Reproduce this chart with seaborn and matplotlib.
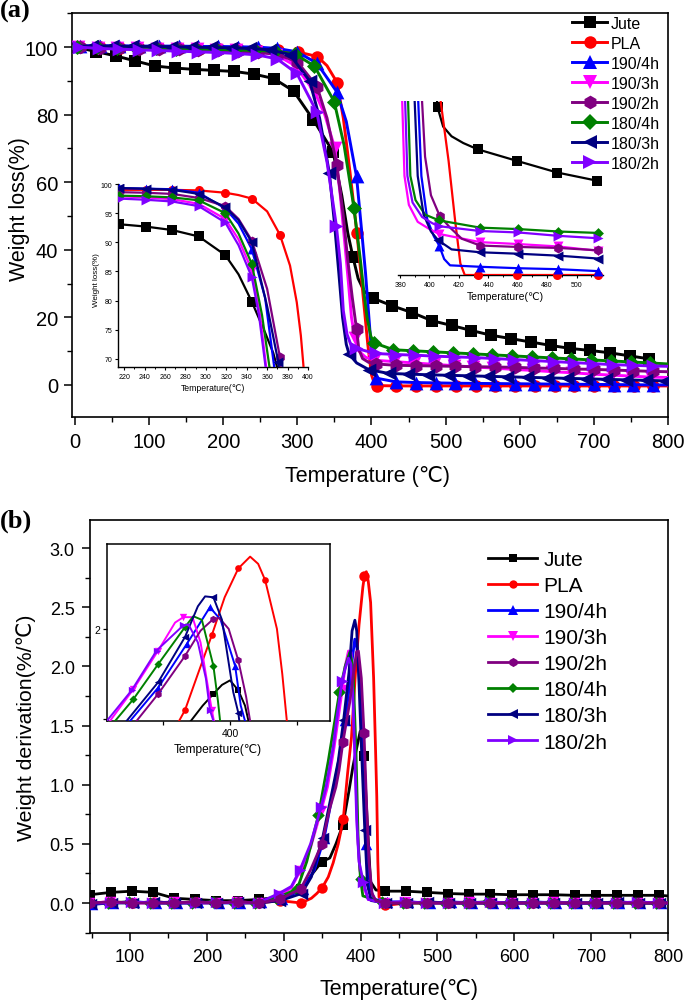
import numpy as np
import matplotlib
matplotlib.use("Agg")
import matplotlib.pyplot as plt
from matplotlib.lines import Line2D
from matplotlib.ticker import MultipleLocator, FixedLocator
import seaborn as sns

plt.rcParams['font.family'] = ['Liberation Sans', 'DejaVu Sans']
plt.rcParams['axes.unicode_minus'] = False

# ---------------- series ----------------
names = ['Jute', 'PLA', '190/4h', '190/3h', '190/2h', '180/4h', '180/3h', '180/2h']
colors = ['#000000', '#FF0000', '#0000FF', '#FF00FF', '#800080', '#008000', '#000080', '#8000FF']
markers = ['s', 'o', '^', 'v', 'h', 'D', '<', '>']
msize_scale = [1.0, 1.0, 1.1, 1.1, 1.1, 0.85, 1.1, 1.1]

# ---------------- panel (a): TGA, markers every 80/3 degC -----------------
a_step = 80 / 3
a_phase = [1.5, 7.0, 6.5, 4.0, 6.5, 3.0, 23.2, 6.0]
a_jute = [100, 98.7, 97.4, 95.9, 94.4, 93.8, 93.4, 93.1, 92.8, 92.0, 90.7, 87.0, 78.5, 69.0, 38.0,
          25.7, 23.4, 21.4, 19.0, 17.6, 16.1, 14.7, 13.7, 12.7, 11.7, 10.8, 10.2, 9.5, 8.6, 7.7]
a_jute_x = [(360, 56), (368, 45), (382, 31.5), (390, 27.8)]
a_pla = [100.0, 99.9, 99.8, 99.8, 99.7, 99.6, 99.5, 99.4, 99.3, 99.2, 99.0, 98.6, 97.2, 89.5, 45.0,
         -0.2, -0.3, -0.3, -0.3, -0.3, -0.3, -0.3, -0.3, -0.3, -0.3, -0.3, -0.3, -0.3, -0.3, -0.3]
a_pla_x = [(340, 94.5), (362, 79), (371, 63), (388, 28), (395, 12), (400, 3), (404, 0.3), (800, -0.3)]
a_b4 = [100.4, 100.4, 100.4, 100.3, 100.3, 100.3, 100.2, 100.2, 100.1, 100.0, 99.6, 98.6, 95.2, 86.8, 61.7,
        2.0, 0.9, 0.7, 0.6, 0.5, 0.45, 0.4, 0.35, 0.3, 0.25, 0.2, 0.15, 0.1, 0.05, 0.0]
a_b4_x = [(366, 78), (387, 45), (392, 33), (396.5, 20), (400, 10), (403, 4.5), (800, 0.0)]
a_b3 = [100.0, 99.8, 99.7, 99.6, 99.5, 99.4, 99.3, 99.2, 99.0, 98.7, 97.8, 94.5, 86.5, 70.0, 14.0,
        7.3, 6.9, 6.5, 6.1, 5.7, 5.3, 5.0, 4.6, 4.3, 3.9, 3.6, 3.2, 2.9, 2.6, 2.3]
a_b3_x = [(337, 80), (358, 56), (364, 42), (369, 30), (373, 20), (383, 10), (392, 8.2), (800, 2.2)]
a_b2 = [100.0, 99.7, 99.6, 99.5, 99.4, 99.3, 99.2, 99.0, 98.8, 98.5, 97.8, 95.7, 88.3, 65.2, 16.5,
        6.2, 5.8, 5.7, 5.6, 5.5, 5.4, 5.3, 5.2, 5.0, 4.9, 4.7, 4.6, 4.4, 4.2, 4.0]
a_b2_x = [(340, 79), (362, 50), (368, 37), (374, 26), (383, 10.5), (388, 7.8), (396, 6.7), (800, 3.9)]
a_c4 = [100.0, 99.9, 99.8, 99.7, 99.6, 99.5, 99.4, 99.3, 99.2, 99.0, 98.8, 98.0, 94.4, 83.9, 52.4,
        12.5, 10.4, 10.1, 9.8, 9.5, 9.2, 8.9, 8.6, 8.3, 8.0, 7.7, 7.4, 7.1, 6.8, 6.5]
a_c4_x = [(363, 71), (385, 37), (390, 27), (394, 20), (399, 14.5), (800, 6.2)]
a_c3 = [100.3, 100.3, 100.2, 100.2, 100.1, 100.0, 99.9, 99.8, 99.6, 99.2, 97.8, 90.0, 62.7, 9.1, 4.5,
        3.4, 3.2, 3.0, 2.85, 2.7, 2.55, 2.4, 2.25, 2.1, 1.95, 1.8, 1.65, 1.5, 1.35, 1.2]
a_c3_x = [(0, 100.3), (330, 79), (350, 48), (356, 33), (361, 20), (366, 12), (380, 6.5)]
a_c2 = [100.0, 99.6, 99.4, 99.2, 99.0, 98.8, 98.6, 98.4, 98.1, 97.7, 96.5, 92.2, 80.9, 47.0, 10.8,
        9.3, 9.0, 8.8, 8.5, 8.3, 8.1, 7.8, 7.5, 7.2, 6.9, 6.6, 6.3, 6.0, 5.8, 5.6]
a_c2_x = [(340, 66), (358, 36), (362, 22), (367, 15), (372, 12), (800, 5.5)]

# left inset of (a): (T, W, marker?)
ia_jute = [(215, 93.1, 1), (241, 92.7, 1), (267, 92.1, 1), (293, 91.0, 1), (319, 87.8, 1), (332, 84.5, 0),
           (345, 79.8, 1), (358, 74.5, 0), (366, 71.0, 0), (373, 66.5, 0)]
ia_pla = [(215, 99.0, 1), (241, 99.0, 1), (267, 99.0, 1), (293, 98.9, 1), (319, 98.5, 1), (332, 98.1, 0),
          (345, 97.5, 1), (360, 95.3, 0), (372.5, 91.3, 1), (382.4, 86.0, 0), (389, 79.7, 0), (393, 74.0, 0),
          (395.5, 68.9, 0), (396.5, 66.0, 0)]
ia_b4 = [(215, 99.3, 1), (241, 99.2, 1), (267, 99.1, 1), (293, 98.5, 1), (319, 95.8, 1), (332, 93.2, 0),
         (345, 88.8, 1), (358, 80.5, 0), (368.5, 66.5, 0)]
ia_b3 = [(215, 97.9, 1), (241, 97.7, 1), (267, 97.4, 1), (293, 96.6, 1), (319, 94.0, 1), (332, 90.5, 0),
         (345, 85.2, 1), (353, 77.5, 0), (360.5, 66.5, 0)]
ia_b2 = [(215, 98.6, 1), (241, 98.5, 1), (267, 98.3, 1), (293, 97.6, 1), (319, 96.2, 1), (332, 94.0, 0),
         (345, 90.3, 1), (360, 82.0, 0), (372.5, 70.3, 1), (374, 66.5, 0)]
ia_c4 = [(215, 98.0, 1), (241, 97.9, 1), (267, 97.7, 1), (293, 97.2, 1), (319, 95.0, 1), (332, 91.5, 0),
         (345, 86.3, 1), (355, 77.5, 0), (364, 66.5, 0)]
ia_c3 = [(215, 99.3, 1), (241, 99.2, 1), (267, 99.0, 1), (293, 98.3, 1), (319, 96.0, 1), (332, 93.8, 0),
         (345, 90.0, 1), (360, 79.0, 0), (371, 69.4, 1), (372.5, 66.5, 0)]
ia_c2 = [(215, 97.5, 1), (241, 97.3, 1), (267, 97.0, 1), (293, 96.2, 1), (319, 93.4, 1), (332, 89.5, 0),
         (345, 84.0, 1), (352, 77.5, 0), (360, 66.5, 0)]

# right inset of (a)
ra_jute = [(404.5, 38, 0), (405.5, 34.2, 1), (409.3, 30.2, 0), (415, 28.2, 0), (423, 26.8, 0),
           (432.8, 25.5, 1), (459.6, 23.1, 1), (486.9, 20.7, 1), (514.1, 19.0, 1)]
ra_pla = [(406.5, 38, 0), (413, 23.1, 0), (417.5, 10.6, 0), (421, 1.9, 0), (424, -0.5, 0),
          (433.2, -0.5, 1), (459.8, -0.5, 1), (487, -0.5, 1), (514.3, -0.5, 1)]
ra_b4 = [(392, 38, 0), (394.5, 20, 0), (398.5, 11, 0), (403, 7.5, 0), (406.6, 5.6, 1), (410, 2.8, 0),
         (414, 1.5, 0), (434.4, 1.2, 1), (460.5, 0.9, 1), (487.7, 0.7, 1), (514.9, 0.3, 1)]
ra_b3 = [(381.2, 38, 0), (383, 20, 0), (386, 14, 0), (392, 10.5, 0), (400, 9.0, 0), (406.5, 8.0, 1),
         (434.4, 6.3, 1), (460.5, 5.9, 1), (487.7, 5.4, 1), (514.9, 4.5, 1)]
ra_b2 = [(394.5, 38, 0), (397, 24, 0), (401, 16, 0), (407, 11.7, 1), (414, 9.3, 0), (422, 7.0, 0),
         (434.4, 5.6, 1), (460.5, 5.3, 1), (487.7, 5.1, 1), (514.9, 4.6, 1)]
ra_c4 = [(385.2, 38, 0), (387, 20, 0), (390.5, 15, 0), (397, 12, 0), (406.5, 10.8, 1),
         (434.4, 9.3, 1), (460.5, 9.0, 1), (487.7, 8.5, 1), (514.9, 8.2, 1)]
ra_c3 = [(389.6, 38, 0), (392, 20, 0), (396, 12, 0), (401, 8.5, 0), (405.9, 6.7, 1), (415, 4.8, 0),
         (434.4, 4.2, 1), (460.5, 3.9, 1), (487.7, 3.5, 1), (514.9, 2.9, 1)]
ra_c2 = [(383.2, 38, 0), (385, 20, 0), (388.5, 14.5, 0), (395, 11.5, 0), (402, 10.2, 0), (406.5, 9.6, 1),
         (434.4, 8.6, 1), (460.5, 8.3, 1), (487.7, 7.6, 1), (514.9, 7.1, 1)]

# ---------------- panel (b): DTG, markers every 27.42 degC from 48 -----------------
b_start = 48.0
b_step = 27.42
b_phase = [0, 0.5, 3, -1, 0, -4.5, 1, -1]
b_jute = [0.07, 0.09, 0.10, 0.09, 0.04, 0.03, 0.02, 0.02, 0.03, 0.05, 0.12, 0.35, 0.66, 1.24,
          0.10, 0.10, 0.09, 0.08, 0.075, 0.075, 0.07, 0.07, 0.07, 0.065, 0.065, 0.065, 0.065, 0.065]
b_jute_x = [(360, 0.38), (368, 0.5), (385, 0.95), (390, 1.15), (394, 1.28), (399.5, 1.45),
            (409, 0.65), (413, 0.18), (420, 0.11), (800, 0.06)]
b_pla = [0.0, 0.01, 0.0, 0.01, 0.0, 0.01, 0.0, 0.01, 0.0, 0.02, 0.0, 0.13, 0.71, 2.76,
         -0.02, 0.0, 0.0, 0.0, 0.0, 0.0, 0.0, 0.0, 0.0, 0.0, 0.0, 0.0, 0.0, 0.0]
b_pla_x = [(336, 0.04), (343, 0.08), (358, 0.22), (364.4, 0.34), (371, 0.5), (383.2, 1.10), (388.2, 1.40),
           (393.2, 1.93), (398, 2.35), (403, 2.67), (407.5, 2.80), (410, 2.72), (413.1, 2.54), (417, 1.9),
           (419.5, 1.3), (421.1, 0.9), (422.5, 0.35), (424, 0.05), (800, 0.0)]
b_b4 = [-0.01, 0.0, 0.01, 0.0, 0.0, 0.01, 0.0, 0.0, 0.01, 0.03, 0.12, 0.55, 1.55, 0.50,
        0.01, 0.01, 0.0, 0.01, 0.0, 0.0, 0.0, 0.01, 0.0, 0.0, 0.0, 0.0, 0.0, 0.0]
b_b4_x = [(340, 0.28), (365.4, 0.98), (372, 1.22), (376.4, 1.38), (385.5, 1.83), (389, 2.05), (392.5, 2.23),
          (395.5, 2.15), (398, 1.95), (400.7, 1.60), (403.2, 1.15), (411, 0.15), (418, 0.03), (800, 0.0)]
b_b3 = [0.0, 0.01, 0.0, 0.0, 0.01, 0.0, 0.0, 0.01, 0.0, 0.06, 0.27, 0.78, 1.80, 0.15,
        0.0, 0.01, 0.0, 0.0, 0.01, 0.0, 0.0, 0.0, 0.01, 0.0, 0.0, 0.0, 0.0, 0.0]
b_b3_x = [(310, 0.13), (335, 0.47), (356.9, 0.98), (365.7, 1.32), (380, 2.0), (384.3, 2.13), (387.5, 2.12),
          (390, 1.8), (393.7, 1.09), (396, 0.6), (399, 0.28), (410, 0.03), (800, 0.0)]
b_b2 = [0.0, 0.01, 0.0, 0.0, 0.0, 0.01, 0.0, 0.01, 0.0, 0.03, 0.12, 0.50, 1.36, 1.44,
        0.0, 0.0, 0.0, 0.0, 0.0, 0.0, 0.0, 0.0, 0.0, 0.0, 0.0, 0.0, 0.0, 0.0]
b_b2_x = [(335, 0.28), (360, 0.8), (367.9, 0.98), (372, 1.12), (386, 1.70), (391, 1.95), (394.7, 2.12),
          (397.2, 2.13), (401, 1.9), (408, 0.8), (411, 0.35), (415, 0.08), (420, 0.02), (800, 0.0)]
b_c4 = [0.0, 0.0, 0.01, 0.0, 0.0, 0.0, 0.01, 0.0, 0.0, 0.04, 0.12, 0.74, 1.78, 0.20,
        0.01, 0.0, 0.0, 0.0, 0.0, 0.01, 0.0, 0.0, 0.0, 0.0, 0.0, 0.0, 0.0, 0.0]
b_c4_x = [(330, 0.35), (358, 1.2), (380, 2.0), (386, 2.12), (390, 2.0), (394, 1.3), (397, 0.5),
          (403, 0.06), (800, 0.0)]
b_c3 = [-0.01, 0.0, 0.0, 0.01, 0.0, 0.0, 0.0, 0.01, 0.0, 0.02, 0.08, 0.55, 1.55, 0.62,
        0.0, 0.0, 0.01, 0.0, 0.0, 0.0, 0.0, 0.0, 0.0, 0.0, 0.0, 0.01, 0.0, 0.0]
b_c3_x = [(336, 0.22), (364.2, 0.98), (371, 1.2), (385, 1.95), (389, 2.3), (392.6, 2.39), (395, 2.3),
          (398, 1.85), (401.3, 1.29), (403.1, 1.0), (409, 0.15), (414, 0.02), (800, 0.0)]
b_c2 = [0.0, 0.0, 0.01, 0.0, 0.0, 0.0, 0.01, 0.0, 0.0, 0.08, 0.28, 0.81, 1.88, 0.18,
        0.0, 0.01, 0.0, 0.0, 0.0, 0.01, 0.0, 0.0, 0.0, 0.0, 0.0, 0.0, 0.01, 0.0]
b_c2_x = [(310, 0.14), (335, 0.5), (355.1, 0.98), (364.4, 1.32), (370, 1.6), (380, 1.98), (384.3, 2.07),
          (387.5, 2.02), (390, 1.75), (392.5, 1.25), (395, 0.7), (398, 0.35), (410, 0.03), (800, 0.0)]

# inset of (b)
ib_jute = [(383, 0.9, 0), (385.1, 0.97, 0), (389.8, 1.15, 0), (393.8, 1.28, 1), (397, 1.38, 0),
           (400, 1.43, 0), (403.1, 1.32, 1), (405.6, 1.15, 0), (407.5, 0.9, 0)]
ib_pla = [(379.5, 0.9, 0), (383.2, 1.10, 1), (388, 1.5, 0), (393.2, 1.93, 1), (398, 2.35, 0), (403.1, 2.67, 1),
          (407.5, 2.80, 0), (410.5, 2.72, 0), (413.1, 2.54, 1), (417.5, 2.0, 0), (419.5, 1.5, 0),
          (421.2, 0.98, 0), (422, 0.8, 0)]
ib_b4 = [(361.5, 0.9, 0), (362.7, 0.98, 0), (373.2, 1.35, 1), (383.8, 1.83, 1), (388.5, 2.05, 0),
         (392.5, 2.24, 1), (396.5, 2.1, 0), (401.9, 1.59, 1), (404, 1.15, 0), (405.6, 0.98, 0), (406.5, 0.8, 0)]
ib_b3 = [(354, 0.9, 0), (355.2, 0.98, 0), (363.9, 1.33, 1), (373.2, 1.76, 1), (379.5, 2.07, 0),
         (382.6, 2.13, 1), (386, 2.13, 0), (389, 1.85, 0), (393.2, 1.10, 1), (394, 0.98, 0), (394.6, 0.8, 0)]
ib_b2 = [(364, 0.9, 0), (365.1, 0.98, 0), (373.2, 1.28, 1), (383.2, 1.70, 1), (389, 1.98, 0),
         (393.8, 2.11, 1), (396, 2.12, 0), (399.5, 2.0, 0), (403.1, 1.65, 1), (406, 1.25, 0),
         (407.5, 0.98, 0), (408.3, 0.8, 0)]
ib_c4 = [(356, 0.9, 0), (357.1, 0.98, 0), (363.9, 1.22, 1), (373.2, 1.61, 1), (383.2, 2.02, 1),
         (386.3, 2.14, 0), (389.5, 2.1, 0), (393.8, 1.59, 1), (395.5, 1.2, 0), (396.3, 0.98, 0), (397, 0.8, 0)]
ib_c3 = [(360, 0.9, 0), (361.4, 0.98, 0), (373.2, 1.41, 1), (383.2, 1.91, 1), (388, 2.25, 0),
         (390.7, 2.36, 0), (393.8, 2.35, 1), (397, 2.1, 0), (401.2, 1.30, 0), (403.1, 1.07, 1), (404.2, 0.8, 0)]
ib_c2 = [(353, 0.9, 0), (354, 0.98, 0), (363.3, 1.32, 1), (372.6, 1.76, 1), (382.6, 2.04, 1),
         (384.5, 2.05, 0), (388, 1.85, 0), (391, 1.45, 0), (392.5, 1.10, 1), (393.8, 0.98, 0), (394.4, 0.8, 0)]

A_MAIN = [(a_jute, a_jute_x), (a_pla, a_pla_x), (a_b4, a_b4_x), (a_b3, a_b3_x),
          (a_b2, a_b2_x), (a_c4, a_c4_x), (a_c3, a_c3_x), (a_c2, a_c2_x)]
B_MAIN = [(b_jute, b_jute_x), (b_pla, b_pla_x), (b_b4, b_b4_x), (b_b3, b_b3_x),
          (b_b2, b_b2_x), (b_c4, b_c4_x), (b_c3, b_c3_x), (b_c2, b_c2_x)]
A_LEFT = [ia_jute, ia_pla, ia_b4, ia_b3, ia_b2, ia_c4, ia_c3, ia_c2]
A_RIGHT = [ra_jute, ra_pla, ra_b4, ra_b3, ra_b2, ra_c4, ra_c3, ra_c2]
B_INSET = [ib_jute, ib_pla, ib_b4, ib_b3, ib_b2, ib_c4, ib_c3, ib_c2]


def build_main(start, phase, step, vals, extra):
    tm = start + phase + step * np.arange(len(vals))
    t = np.concatenate([tm, [p[0] for p in extra]])
    w = np.concatenate([np.asarray(vals, float), [p[1] for p in extra]])
    m = np.concatenate([np.ones(len(vals), bool), np.zeros(len(extra), bool)])
    o = np.argsort(t, kind='stable')
    return t[o], w[o], m[o]


def build_pts(pts):
    t = np.array([p[0] for p in pts], float)
    w = np.array([p[1] for p in pts], float)
    m = np.array([bool(p[2]) for p in pts])
    return t, w, m


def draw(ax, t, w, m, k, ms, lw, z, clip_markers=True):
    sns.lineplot(x=t, y=w, color=colors[k], lw=lw, ax=ax, sort=False, estimator=None,
                 legend=False, zorder=z)
    s = (ms * msize_scale[k]) ** 2
    sns.scatterplot(x=t[m], y=w[m], color=colors[k], marker=markers[k], s=s, linewidth=0,
                    ax=ax, legend=False, zorder=z + 0.5, clip_on=clip_markers)


fig = plt.figure(figsize=(6.85, 10.03), dpi=100)
W, H = 685.0, 1003.0
axA = fig.add_axes([72 / W, 1 - 418 / H, 596 / W, 404 / H])
axB = fig.add_axes([90 / W, 1 - 934 / H, 578 / W, 413 / H])
insL = fig.add_axes([118 / W, 1 - 368 / H, 190 / W, 183 / H])
insR = fig.add_axes([398 / W, 1 - 276 / H, 205 / W, 174 / H])
insB = fig.add_axes([107 / W, 1 - 722 / H, 223 / W, 177 / H])

# ---- main (a)
for k, (vals, extra) in enumerate(A_MAIN):
    t, w, m = build_main(0.0, a_phase[k], a_step, vals, extra)
    draw(axA, t, w, m, k, 9.0, 2.1, 2 + k)
# ---- main (b)
order_b = [0, 1, 2, 3, 5, 6, 7, 4]
for k in order_b:
    vals, extra = B_MAIN[k]
    t, w, m = build_main(b_start, b_phase[k], b_step, vals, extra)
    draw(axB, t, w, m, k, 7.5, 2.0, 2 + order_b.index(k))
# ---- insets
for k, pts in enumerate(A_LEFT):
    t, w, m = build_pts(pts)
    draw(insL, t, w, m, k, 6.5, 1.6, 2 + k)
for k, pts in enumerate(A_RIGHT):
    t, w, m = build_pts(pts)
    draw(insR, t, w, m, k, 6.5, 1.6, 2 + k, clip_markers=False)
for k, pts in enumerate(B_INSET):
    t, w, m = build_pts(pts)
    draw(insB, t, w, m, k, 4.8, 1.4, 2 + k)


def frame(ax, lw=1.2):
    for sp in ax.spines.values():
        sp.set_linewidth(lw)
        sp.set_color('black')


# ---- axes styling (a)
axA.set_xlim(-4, 800)
axA.set_ylim(-9.5, 110.1)
axA.xaxis.set_major_locator(MultipleLocator(100))
axA.xaxis.set_minor_locator(MultipleLocator(50))
axA.yaxis.set_major_locator(FixedLocator([0, 20, 40, 60, 80, 100]))
axA.yaxis.set_minor_locator(FixedLocator([-10, 10, 30, 50, 70, 90, 110]))
axA.tick_params(which='major', direction='out', length=6, width=1.1, labelsize=14.5)
axA.tick_params(axis='x', which='major', pad=5)
axA.tick_params(axis='y', which='major', pad=4)
axA.tick_params(which='minor', direction='out', length=3.5, width=1.0)
axA.set_xlabel('Temperature (℃)', fontsize=15.5)
axA.set_ylabel('Weight loss(%)', fontsize=15.5)
axA.xaxis.set_label_coords(0.495, -0.119)
axA.yaxis.set_label_coords(-0.071, 0.517)
frame(axA)

# ---- axes styling (b)
axB.set_xlim(48, 800)
axB.set_ylim(-0.2535, 3.237)
axB.xaxis.set_major_locator(MultipleLocator(100))
axB.xaxis.set_minor_locator(MultipleLocator(50))
axB.yaxis.set_major_locator(MultipleLocator(0.5))
axB.yaxis.set_minor_locator(MultipleLocator(0.25))
axB.yaxis.set_major_formatter(matplotlib.ticker.FormatStrFormatter('%.1f'))
axB.tick_params(which='major', direction='out', length=6, width=1.1, labelsize=13)
axB.tick_params(axis='x', which='major', pad=5)
axB.tick_params(axis='y', which='major', pad=5)
axB.tick_params(which='minor', direction='out', length=3.5, width=1.0)
axB.set_xlabel('Temperature(℃)', fontsize=15.5)
axB.set_ylabel('Weight derivation(%/℃)', fontsize=15.3)
axB.xaxis.set_label_coords(0.534, -0.109)
axB.yaxis.set_label_coords(-0.093, 0.5)
frame(axB)

# ---- left inset (a)
insL.set_xlim(214, 400)
insL.set_ylim(68.6, 100)
insL.patch.set_alpha(0)
for s in ['top', 'right']:
    insL.spines[s].set_visible(False)
insL.xaxis.set_major_locator(MultipleLocator(20))
insL.xaxis.set_minor_locator(MultipleLocator(10))
insL.yaxis.set_major_locator(MultipleLocator(5))
insL.tick_params(which='major', direction='out', length=2.5, width=0.8, labelsize=5, pad=1.5)
insL.tick_params(which='minor', direction='out', length=1.5, width=0.7)
insL.set_xlabel('Temperature(℃)', fontsize=6.2)
insL.set_ylabel('Weight loss(%)', fontsize=5.8)
insL.xaxis.set_label_coords(0.5, -0.087)
insL.yaxis.set_label_coords(-0.097, 0.48)
frame(insL, 1.0)

# ---- right inset (a)
insR.set_xlim(378.6, 518)
insR.set_ylim(-0.5, 35.5)
insR.patch.set_alpha(0)
for s in ['top', 'right', 'left']:
    insR.spines[s].set_visible(False)
insR.yaxis.set_visible(False)
insR.xaxis.set_major_locator(MultipleLocator(20))
insR.xaxis.set_minor_locator(MultipleLocator(10))
insR.tick_params(which='major', direction='out', length=2.5, width=0.8, labelsize=5, pad=1.5)
insR.tick_params(which='minor', direction='out', length=1.5, width=0.7)
insR.set_xlabel('Temperature(℃)', fontsize=7.5)
insR.xaxis.set_label_coords(0.522, -0.092)
frame(insR, 1.0)

# ---- inset (b)
insB.set_xlim(354.1, 437.3)
insB.set_ylim(0.98, 2.94)
insB.set_xticks([375, 400, 425], labels=['', '400', ''])
insB.set_yticks([1, 2], labels=['', '2'])
insB.tick_params(which='major', direction='out', length=3, width=0.9, labelsize=7.5, pad=2)
insB.set_xlabel('Temperature(℃)', fontsize=8.6)
insB.xaxis.set_label_coords(0.498, -0.124)
frame(insB, 1.1)

# ---- legends
def handles(ms, lw, scale=1.0):
    return [Line2D([0], [0], color=colors[k], marker=markers[k], lw=lw,
                   ms=ms * msize_scale[k] * scale, mew=0) for k in range(8)]

legA = fig.legend(handles(9.0, 2.1), names, loc='upper left', bbox_to_anchor=(572 / W, 1 - 17 / H),
                  frameon=False, fontsize=11.5, handlelength=2.2, handletextpad=0.25,
                  labelspacing=0.31, borderpad=0, borderaxespad=0)
legB = fig.legend(handles(6.0, 2.0), names, loc='upper left', bbox_to_anchor=(488 / W, 1 - 551 / H),
                  frameon=False, fontsize=15, handlelength=2.36, handletextpad=0.29,
                  labelspacing=0.34, borderpad=0, borderaxespad=0)

fig.text(0.0, 1.0, '(a)', fontsize=19, fontweight='bold', family='Liberation Serif', va='top', ha='left')
fig.text(0.0, 1 - 510 / H, '(b)', fontsize=19, fontweight='bold', family='Liberation Serif', va='top', ha='left')

fig.savefig('out.png', dpi=100)
